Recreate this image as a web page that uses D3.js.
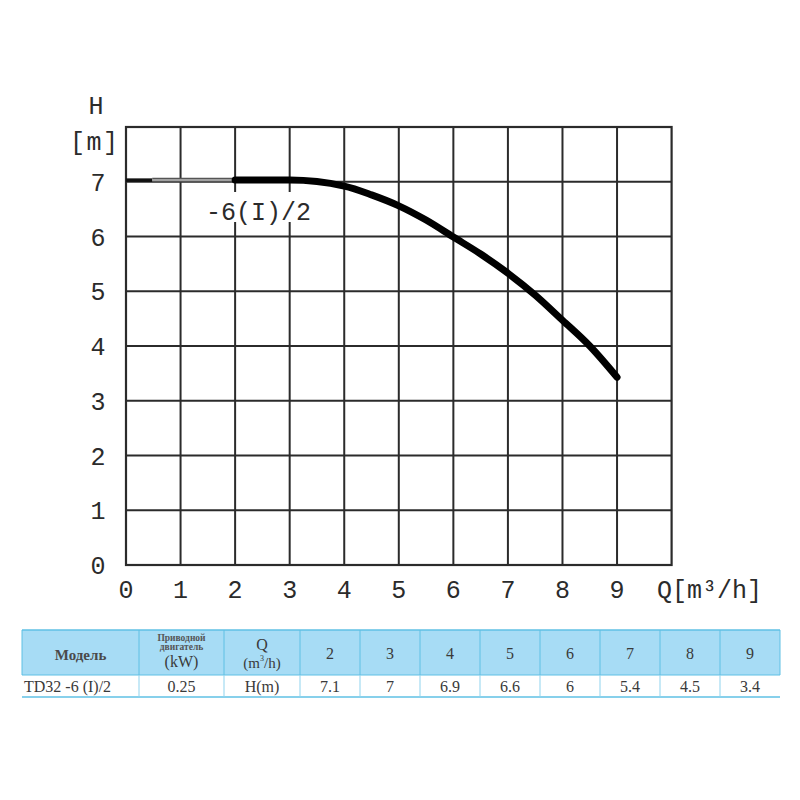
<!DOCTYPE html>
<html><head><meta charset="utf-8">
<script src="https://cdn.jsdelivr.net/npm/d3@7"></script>
<style>body{margin:0;background:#fff}</style>
</head><body>
<svg id="c" width="800" height="800"></svg>
<script>
// ---- data ----
const xTicks = [0,1,2,3,4,5,6,7,8,9];
const yTicks = [0,1,2,3,4,5,6,7];
const curveQ = [2, 3, 4, 4.5, 5, 5.5, 6, 6.5, 7, 7.5, 8, 8.5, 9];
const curveH = [7.03, 7.03, 6.92, 6.76, 6.56, 6.3, 5.99, 5.68, 5.33, 4.93, 4.47, 4.0, 3.43];
const flatQ = [0, 0.48, 2];
const flatH = [7.03, 7.03, 7.03];
const curveLabel = "-6(I)/2";
const tableQ = [2,3,4,5,6,7,8,9];
const tableH = ["7.1","7","6.9","6.6","6","5.4","4.5","3.4"];
const modelName = "TD32 -6 (I)/2";
const power = "0.25";

(function(){
const svg = d3.select("#c");
const x = d3.scaleLinear().domain([0,10]).range([126,671.6]);
const y = d3.scaleLinear().domain([0,8]).range([565,127]);
const mono = "'Liberation Mono', 'DejaVu Sans Mono', monospace";
const ink = "#2b2b2b";

// grid
const g = svg.append("g");
g.selectAll(".vx").data(d3.range(1,10)).join("line")
  .attr("x1",d=>x(d)).attr("x2",d=>x(d)).attr("y1",y(8)).attr("y2",y(0))
  .attr("stroke",ink).attr("stroke-width",2);
g.selectAll(".hy").data(d3.range(1,8)).join("line")
  .attr("y1",d=>y(d)).attr("y2",d=>y(d)).attr("x1",x(0)).attr("x2",x(10))
  .attr("stroke",ink).attr("stroke-width",2);
g.append("rect").attr("x",x(0)).attr("y",y(8)).attr("width",x(10)-x(0)).attr("height",y(0)-y(8))
  .attr("fill","none").attr("stroke",ink).attr("stroke-width",2.2);

// flat start segment
g.append("line").attr("x1",x(flatQ[0])).attr("x2",x(flatQ[1])).attr("y1",y(flatH[0])).attr("y2",y(flatH[1]))
  .attr("stroke","#111").attr("stroke-width",3.5);
g.append("line").attr("x1",x(flatQ[1])).attr("x2",x(flatQ[2])).attr("y1",y(flatH[1])).attr("y2",y(flatH[2]))
  .attr("stroke","#555").attr("stroke-width",4.5);
g.append("line").attr("x1",x(flatQ[1])).attr("x2",x(flatQ[2])).attr("y1",y(flatH[1])).attr("y2",y(flatH[2]))
  .attr("stroke","#bbb").attr("stroke-width",1.5);

// curve
const pts = curveQ.map((q,i)=>[q,curveH[i]]);
g.append("path").datum(pts)
  .attr("d", d3.line().x(d=>x(d[0])).y(d=>y(d[1])).curve(d3.curveMonotoneX))
  .attr("fill","none").attr("stroke","#000").attr("stroke-width",7).attr("stroke-linecap","round");

// curve label
g.append("rect").attr("x",204).attr("y",192).attr("width",112).attr("height",30).attr("fill","#fff");
g.append("text").attr("x",206).attr("y",220).text(curveLabel)
  .attr("font-family",mono).attr("font-size",25).attr("fill",ink);

// tick labels
g.selectAll(".xt").data(xTicks).join("text")
  .attr("x",d=>x(d)).attr("y",598).attr("text-anchor","middle").text(d=>d)
  .attr("font-family",mono).attr("font-size",25).attr("fill",ink);
g.selectAll(".yt").data(yTicks).join("text")
  .attr("x",98).attr("y",d=>y(d)+9).attr("text-anchor","middle").text(d=>d)
  .attr("font-family",mono).attr("font-size",25).attr("fill",ink);
g.append("text").attr("x",96).attr("y",114).attr("text-anchor","middle").text("H")
  .attr("font-family",mono).attr("font-size",25).attr("fill",ink);
g.append("text").attr("x",94).attr("y",150).attr("text-anchor","middle").text("[m]")
  .attr("font-family",mono).attr("font-size",25).attr("fill",ink).attr("textLength",48);
g.append("text").attr("x",657).attr("y",598).text("Q[m³/h]")
  .attr("font-family",mono).attr("font-size",25).attr("fill",ink).attr("textLength",105);

// ---- table ----
const serif = "'Liberation Serif','Times New Roman',serif";
const tc = "#3a3a3a";
const blue = "#a7dcf5", line = "#5fc0e4", lineLight = "#8fd3ee";
const yTop = 630, yMid = 675, yBot = 697;
const colEdges = [22,139,224,300];
const qb = d3.scaleBand().domain(tableQ).range([300,780]);
const t = svg.append("g");
t.append("rect").attr("x",22).attr("y",yTop).attr("width",758).attr("height",yMid-yTop).attr("fill",blue);
t.append("line").attr("x1",22).attr("x2",780).attr("y1",yTop).attr("y2",yTop).attr("stroke",line).attr("stroke-width",1.5);
t.append("line").attr("x1",22).attr("x2",780).attr("y1",yMid).attr("y2",yMid).attr("stroke",line).attr("stroke-width",1);
t.append("line").attr("x1",22).attr("x2",780).attr("y1",yBot).attr("y2",yBot).attr("stroke",line).attr("stroke-width",1.5);
const vEdges = colEdges.concat(tableQ.map(q=>qb(q)+qb.bandwidth()));
t.selectAll(".vh").data(vEdges).join("line")
  .attr("x1",d=>d).attr("x2",d=>d).attr("y1",yTop).attr("y2",yMid).attr("stroke",line).attr("stroke-width",1);
t.selectAll(".vr").data(vEdges.slice(1,-1)).join("line")
  .attr("x1",d=>d).attr("x2",d=>d).attr("y1",yMid).attr("y2",yBot).attr("stroke",lineLight).attr("stroke-width",1);

function txt(xp,yp,s,size,extra){
  const e = t.append("text").attr("x",xp).attr("y",yp).attr("text-anchor","middle").text(s)
    .attr("font-family",serif).attr("font-size",size).attr("fill",tc);
  if(extra) extra(e);
  return e;
}
txt(80.5,660,"Модель",15,e=>e.attr("font-weight","bold").attr("fill","#4a4a4a"));
txt(181.5,641,"Приводной",9.5,e=>e.attr("font-weight","bold").attr("fill","#555"));
txt(181.5,650,"двигатель",9.5,e=>e.attr("font-weight","bold").attr("fill","#555"));
txt(181.5,667,"(kW)",16);
txt(262,650,"Q",16);
const qt = txt(262,668,"",15);
qt.append("tspan").text("(m");
qt.append("tspan").text("3").attr("font-size",8).attr("dy",-7);
qt.append("tspan").text("/h)").attr("dy",7);
t.selectAll(".hq").data(tableQ).join("text")
  .attr("x",d=>qb(d)+qb.bandwidth()/2).attr("y",659).attr("text-anchor","middle").text(d=>d)
  .attr("font-family",serif).attr("font-size",16).attr("fill",tc);
txt(24,692,modelName,16,e=>e.attr("text-anchor","start"));
txt(181.5,692,power,16);
txt(262,692,"H(m)",16);
t.selectAll(".hv").data(tableH).join("text")
  .attr("x",(d,i)=>qb(tableQ[i])+qb.bandwidth()/2).attr("y",692).attr("text-anchor","middle").text(d=>d)
  .attr("font-family",serif).attr("font-size",16).attr("fill",tc);
})();
</script>
</body></html>
